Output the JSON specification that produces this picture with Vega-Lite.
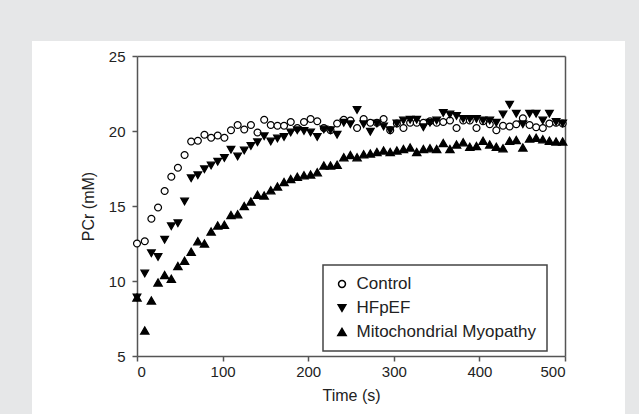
{
"$schema": "https://vega.github.io/schema/vega-lite/v6.json",
"width": 593, "height": 373,
"autosize": {"type": "none"},
"padding": {"left": 32, "top": 41, "right": 14, "bottom": 0},
"background": "#e6e7e8",
"config": {"view": {"fill": "white", "stroke": null}, "font": "Liberation Sans",
"legend": {"title": null, "orient": "none", "legendX": 291, "legendY": 224, "padding": 10.5, "strokeColor": "#444", "strokeWidth": 1.5, "labelFontSize": 17, "labelColor": "#222", "labelFont": "Liberation Sans", "labelLimit": 0, "rowPadding": 6, "labelOffset": 6, "symbolOffset": 0}},
"data": {"values": [
{"t":0,"s":"Control","v":12.5},{"t":9.1,"s":"Control","v":12.65},{"t":16.8,"s":"Control","v":14.15},{"t":24.6,"s":"Control","v":14.9},{"t":32.3,"s":"Control","v":16.0},{"t":40.1,"s":"Control","v":16.95},{"t":47.8,"s":"Control","v":17.55},{"t":55.6,"s":"Control","v":18.4},{"t":63.3,"s":"Control","v":19.3},{"t":71.1,"s":"Control","v":19.35},{"t":78.8,"s":"Control","v":19.75},{"t":86.6,"s":"Control","v":19.55},{"t":94.3,"s":"Control","v":19.7},{"t":102.1,"s":"Control","v":19.55},{"t":109.8,"s":"Control","v":20.05},{"t":117.6,"s":"Control","v":20.4},{"t":125.3,"s":"Control","v":20.1},{"t":133.1,"s":"Control","v":20.4},{"t":140.8,"s":"Control","v":19.9},{"t":148.6,"s":"Control","v":20.75},{"t":156.3,"s":"Control","v":20.4},{"t":164.1,"s":"Control","v":20.35},{"t":171.8,"s":"Control","v":20.35},{"t":179.6,"s":"Control","v":20.6},{"t":187.3,"s":"Control","v":20.2},{"t":195.1,"s":"Control","v":20.6},{"t":202.8,"s":"Control","v":20.8},{"t":210.6,"s":"Control","v":20.65},{"t":218.3,"s":"Control","v":20.2},{"t":226.1,"s":"Control","v":20.05},{"t":233.8,"s":"Control","v":20.5},{"t":241.6,"s":"Control","v":20.75},{"t":249.3,"s":"Control","v":20.7},{"t":257.1,"s":"Control","v":20.2},{"t":264.8,"s":"Control","v":20.8},{"t":272.6,"s":"Control","v":20.55},{"t":280.3,"s":"Control","v":20.55},{"t":288.1,"s":"Control","v":20.8},{"t":295.8,"s":"Control","v":20.05},{"t":303.6,"s":"Control","v":20.5},{"t":311.3,"s":"Control","v":20.2},{"t":319.1,"s":"Control","v":20.55},{"t":326.8,"s":"Control","v":20.55},{"t":334.6,"s":"Control","v":20.55},{"t":342.3,"s":"Control","v":20.65},{"t":350.1,"s":"Control","v":20.55},{"t":357.8,"s":"Control","v":20.6},{"t":365.6,"s":"Control","v":20.7},{"t":373.3,"s":"Control","v":20.2},{"t":381.1,"s":"Control","v":20.7},{"t":388.8,"s":"Control","v":20.7},{"t":396.6,"s":"Control","v":20.2},{"t":404.3,"s":"Control","v":20.65},{"t":412.1,"s":"Control","v":20.45},{"t":419.8,"s":"Control","v":20.05},{"t":427.6,"s":"Control","v":20.35},{"t":435.3,"s":"Control","v":20.3},{"t":443.1,"s":"Control","v":20.45},{"t":450.8,"s":"Control","v":20.85},{"t":458.6,"s":"Control","v":20.4},{"t":466.3,"s":"Control","v":20.25},{"t":474.1,"s":"Control","v":20.2},{"t":481.8,"s":"Control","v":20.5},{"t":489.6,"s":"Control","v":20.55},{"t":497.3,"s":"Control","v":20.5},
{"t":0,"s":"HFpEF","v":8.9},{"t":9.1,"s":"HFpEF","v":10.5},{"t":16.8,"s":"HFpEF","v":11.85},{"t":24.6,"s":"HFpEF","v":11.6},{"t":32.3,"s":"HFpEF","v":12.75},{"t":40.1,"s":"HFpEF","v":13.65},{"t":47.8,"s":"HFpEF","v":13.85},{"t":55.6,"s":"HFpEF","v":15.3},{"t":63.3,"s":"HFpEF","v":16.85},{"t":71.1,"s":"HFpEF","v":17.05},{"t":78.8,"s":"HFpEF","v":17.45},{"t":86.6,"s":"HFpEF","v":17.7},{"t":94.3,"s":"HFpEF","v":17.95},{"t":102.1,"s":"HFpEF","v":18.2},{"t":109.8,"s":"HFpEF","v":18.75},{"t":117.6,"s":"HFpEF","v":18.3},{"t":125.3,"s":"HFpEF","v":18.7},{"t":133.1,"s":"HFpEF","v":19.0},{"t":140.8,"s":"HFpEF","v":19.25},{"t":148.6,"s":"HFpEF","v":19.65},{"t":156.3,"s":"HFpEF","v":19.3},{"t":164.1,"s":"HFpEF","v":19.5},{"t":171.8,"s":"HFpEF","v":19.6},{"t":179.6,"s":"HFpEF","v":19.9},{"t":187.3,"s":"HFpEF","v":20.05},{"t":195.1,"s":"HFpEF","v":20.0},{"t":202.8,"s":"HFpEF","v":19.9},{"t":210.6,"s":"HFpEF","v":19.6},{"t":218.3,"s":"HFpEF","v":20.1},{"t":226.1,"s":"HFpEF","v":20.05},{"t":233.8,"s":"HFpEF","v":19.75},{"t":241.6,"s":"HFpEF","v":20.55},{"t":249.3,"s":"HFpEF","v":20.45},{"t":257.1,"s":"HFpEF","v":21.4},{"t":264.8,"s":"HFpEF","v":20.45},{"t":272.6,"s":"HFpEF","v":19.95},{"t":280.3,"s":"HFpEF","v":20.5},{"t":288.1,"s":"HFpEF","v":20.3},{"t":295.8,"s":"HFpEF","v":20.05},{"t":303.6,"s":"HFpEF","v":20.5},{"t":311.3,"s":"HFpEF","v":20.7},{"t":319.1,"s":"HFpEF","v":20.75},{"t":326.8,"s":"HFpEF","v":20.75},{"t":334.6,"s":"HFpEF","v":20.25},{"t":342.3,"s":"HFpEF","v":20.55},{"t":350.1,"s":"HFpEF","v":20.7},{"t":357.8,"s":"HFpEF","v":21.2},{"t":365.6,"s":"HFpEF","v":21.1},{"t":373.3,"s":"HFpEF","v":21.0},{"t":381.1,"s":"HFpEF","v":20.8},{"t":388.8,"s":"HFpEF","v":20.8},{"t":396.6,"s":"HFpEF","v":20.8},{"t":404.3,"s":"HFpEF","v":20.7},{"t":412.1,"s":"HFpEF","v":20.7},{"t":419.8,"s":"HFpEF","v":20.55},{"t":427.6,"s":"HFpEF","v":21.1},{"t":435.3,"s":"HFpEF","v":21.75},{"t":443.1,"s":"HFpEF","v":21.15},{"t":450.8,"s":"HFpEF","v":20.45},{"t":458.6,"s":"HFpEF","v":21.15},{"t":466.3,"s":"HFpEF","v":21.15},{"t":474.1,"s":"HFpEF","v":20.7},{"t":481.8,"s":"HFpEF","v":21.15},{"t":489.6,"s":"HFpEF","v":20.6},{"t":497.3,"s":"HFpEF","v":20.5},
{"t":0,"s":"Mitochondrial Myopathy","v":8.9},{"t":9.1,"s":"Mitochondrial Myopathy","v":6.7},{"t":16.8,"s":"Mitochondrial Myopathy","v":8.7},{"t":24.6,"s":"Mitochondrial Myopathy","v":9.9},{"t":32.3,"s":"Mitochondrial Myopathy","v":10.4},{"t":40.1,"s":"Mitochondrial Myopathy","v":10.15},{"t":47.8,"s":"Mitochondrial Myopathy","v":11.0},{"t":55.6,"s":"Mitochondrial Myopathy","v":11.35},{"t":63.3,"s":"Mitochondrial Myopathy","v":11.95},{"t":71.1,"s":"Mitochondrial Myopathy","v":12.65},{"t":78.8,"s":"Mitochondrial Myopathy","v":12.5},{"t":86.6,"s":"Mitochondrial Myopathy","v":13.3},{"t":94.3,"s":"Mitochondrial Myopathy","v":13.7},{"t":102.1,"s":"Mitochondrial Myopathy","v":13.75},{"t":109.8,"s":"Mitochondrial Myopathy","v":14.4},{"t":117.6,"s":"Mitochondrial Myopathy","v":14.45},{"t":125.3,"s":"Mitochondrial Myopathy","v":15.0},{"t":133.1,"s":"Mitochondrial Myopathy","v":15.3},{"t":140.8,"s":"Mitochondrial Myopathy","v":15.75},{"t":148.6,"s":"Mitochondrial Myopathy","v":15.7},{"t":156.3,"s":"Mitochondrial Myopathy","v":16.05},{"t":164.1,"s":"Mitochondrial Myopathy","v":16.3},{"t":171.8,"s":"Mitochondrial Myopathy","v":16.6},{"t":179.6,"s":"Mitochondrial Myopathy","v":16.8},{"t":187.3,"s":"Mitochondrial Myopathy","v":16.95},{"t":195.1,"s":"Mitochondrial Myopathy","v":17.05},{"t":202.8,"s":"Mitochondrial Myopathy","v":17.1},{"t":210.6,"s":"Mitochondrial Myopathy","v":17.25},{"t":218.3,"s":"Mitochondrial Myopathy","v":17.7},{"t":226.1,"s":"Mitochondrial Myopathy","v":17.7},{"t":233.8,"s":"Mitochondrial Myopathy","v":17.75},{"t":241.6,"s":"Mitochondrial Myopathy","v":18.25},{"t":249.3,"s":"Mitochondrial Myopathy","v":18.4},{"t":257.1,"s":"Mitochondrial Myopathy","v":18.25},{"t":264.8,"s":"Mitochondrial Myopathy","v":18.45},{"t":272.6,"s":"Mitochondrial Myopathy","v":18.5},{"t":280.3,"s":"Mitochondrial Myopathy","v":18.6},{"t":288.1,"s":"Mitochondrial Myopathy","v":18.7},{"t":295.8,"s":"Mitochondrial Myopathy","v":18.6},{"t":303.6,"s":"Mitochondrial Myopathy","v":18.7},{"t":311.3,"s":"Mitochondrial Myopathy","v":18.8},{"t":319.1,"s":"Mitochondrial Myopathy","v":18.9},{"t":326.8,"s":"Mitochondrial Myopathy","v":18.6},{"t":334.6,"s":"Mitochondrial Myopathy","v":18.8},{"t":342.3,"s":"Mitochondrial Myopathy","v":18.85},{"t":350.1,"s":"Mitochondrial Myopathy","v":18.8},{"t":357.8,"s":"Mitochondrial Myopathy","v":19.2},{"t":365.6,"s":"Mitochondrial Myopathy","v":18.8},{"t":373.3,"s":"Mitochondrial Myopathy","v":19.1},{"t":381.1,"s":"Mitochondrial Myopathy","v":19.25},{"t":388.8,"s":"Mitochondrial Myopathy","v":18.95},{"t":396.6,"s":"Mitochondrial Myopathy","v":19.0},{"t":404.3,"s":"Mitochondrial Myopathy","v":19.35},{"t":412.1,"s":"Mitochondrial Myopathy","v":19.1},{"t":419.8,"s":"Mitochondrial Myopathy","v":18.95},{"t":427.6,"s":"Mitochondrial Myopathy","v":18.85},{"t":435.3,"s":"Mitochondrial Myopathy","v":19.35},{"t":443.1,"s":"Mitochondrial Myopathy","v":19.4},{"t":450.8,"s":"Mitochondrial Myopathy","v":18.9},{"t":458.6,"s":"Mitochondrial Myopathy","v":19.5},{"t":466.3,"s":"Mitochondrial Myopathy","v":19.55},{"t":474.1,"s":"Mitochondrial Myopathy","v":19.45},{"t":481.8,"s":"Mitochondrial Myopathy","v":19.35},{"t":489.6,"s":"Mitochondrial Myopathy","v":19.3},{"t":497.3,"s":"Mitochondrial Myopathy","v":19.3}
]},
"layer": [
{
"mark": {"type": "point", "filled": true, "strokeWidth": 1.2, "opacity": 1},
"encoding": {
"x": {"field": "t", "type": "quantitative",
"scale": {"domain": [0, 500], "range": [105, 533], "nice": false, "zero": false},
"axis": {"orient": "bottom", "offset": -58, "values": [0,100,200,300,400,500], "title": "Time (s)", "grid": false,
"domainColor": "#555", "domainWidth": 1.5, "tickColor": "#555", "tickWidth": 1.5, "tickSize": 5,
"labelFontSize": 15, "labelColor": "#222", "labelPadding": 3, "labelFont": "Liberation Sans",
"titleFontSize": 16, "titleFontWeight": "normal", "titleColor": "#222", "titlePadding": 8, "titleFont": "Liberation Sans"}},
"y": {"field": "v", "type": "quantitative",
"scale": {"domain": [5, 25], "range": [315, 15], "nice": false, "zero": false},
"axis": {"orient": "left", "offset": -105, "values": [5,10,15,20,25], "title": "PCr (mM)", "grid": false,
"domainColor": "#555", "domainWidth": 1.5, "tickColor": "#555", "tickWidth": 1.5, "tickSize": 5,
"labelFontSize": 15, "labelColor": "#222", "labelPadding": 7, "labelFont": "Liberation Sans",
"titleFontSize": 16, "titleFontWeight": "normal", "titleColor": "#222", "titlePadding": 12, "titleFont": "Liberation Sans"}},
"shape": {"field": "s", "type": "nominal",
"scale": {"domain": ["Control", "HFpEF", "Mitochondrial Myopathy"], "range": ["circle", "triangle-down", "triangle-up"]},
"legend": {"title": null}},
"fill": {"field": "s", "type": "nominal",
"scale": {"domain": ["Control", "HFpEF", "Mitochondrial Myopathy"], "range": ["white", "black", "black"]},
"legend": {"title": null}},
"stroke": {"field": "s", "type": "nominal",
"scale": {"domain": ["Control", "HFpEF", "Mitochondrial Myopathy"], "range": ["black", "black", "black"]},
"legend": {"title": null}},
"size": {"field": "s", "type": "nominal",
"scale": {"domain": ["Control", "HFpEF", "Mitochondrial Myopathy"], "range": [48, 70, 70]},
"legend": {"title": null}}
}
},
{
"mark": {"type": "point", "opacity": 0},
"encoding": {
"x": {"field": "t", "type": "quantitative",
"axis": {"orient": "top", "offset": -15, "labels": false, "ticks": false, "title": null, "grid": false, "domainColor": "#555", "domainWidth": 1.5}},
"y": {"field": "v", "type": "quantitative",
"axis": {"orient": "right", "offset": -60, "labels": false, "ticks": false, "title": null, "grid": false, "domainColor": "#555", "domainWidth": 1.5}}
}
}
],
"resolve": {"axis": {"x": "independent", "y": "independent"}}
}
